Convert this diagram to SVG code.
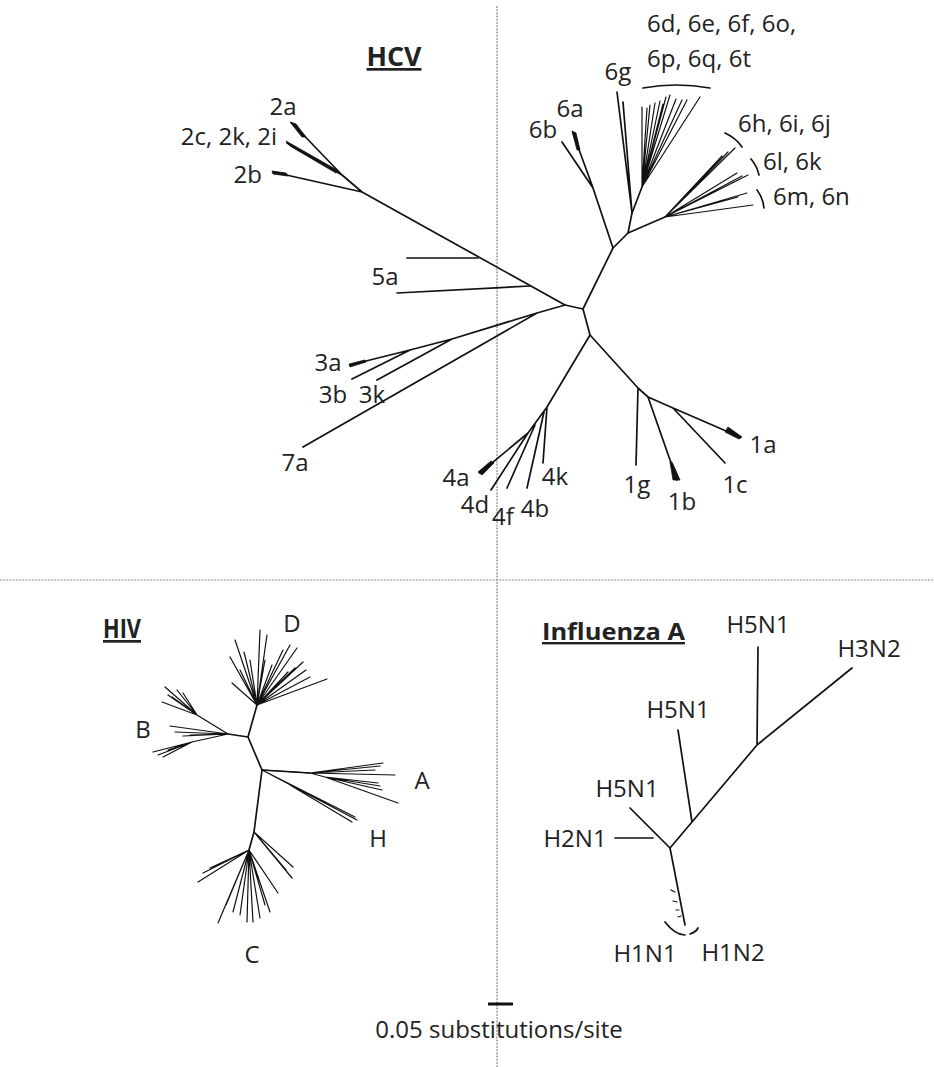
<svg xmlns="http://www.w3.org/2000/svg" width="934" height="1067" viewBox="0 0 934 1067">
<style>
.br{stroke:#111;stroke-width:1.7;fill:none;stroke-linecap:round;stroke-linejoin:round}
.thin{stroke:#111;stroke-width:1.2;fill:none;stroke-linecap:round}
.wedge{fill:#111;stroke:#111;stroke-width:0.8}
.lbl{font-family:"Open Sans","Noto Sans",sans-serif;font-size:24px;fill:#222}
.ttl{font-family:"Open Sans","Noto Sans",sans-serif;font-weight:700;fill:#222;text-decoration:underline}
.dot{stroke:#888;stroke-width:1.2;stroke-dasharray:2 1.2;fill:none}
</style>
<rect width="934" height="1067" fill="#fff"/>
<g id="dividers">
<line class="dot" x1="497" y1="6" x2="497" y2="1067"/>
<line class="dot" x1="0" y1="580" x2="934" y2="580"/>
</g>

<g id="hcv">
<text class="ttl" x="394" y="66" font-size="27" text-anchor="middle" textLength="55" lengthAdjust="spacingAndGlyphs">HCV</text>
<g id="hcv-edges">
<path class="br" d="M565,305 L583,309 L590,335"/>
<path class="br" d="M583,309 L613,248 L628,233 L632,213 L642,187"/>
<path class="br" d="M613,248 L593,188 L562,142 M593,188 L573,133"/>
<path class="br" d="M632,213 L617,92 M632,213 L623,102"/>
<path class="thin" d="M642,187 L642,107 M642,187 L650,105 M642,187 L655,103 M642,187 L660,101 M642,187 L666,97 M642,187 L670,95 M642,187 L676,99 M642,187 L682,100 M642,187 L687,100 M642,187 L700,97 M642,187 L647,108 M642,187 L663,104"/>
<path class="br" d="M628,233 L665,217"/>
<path class="thin" d="M665,217 L735,148 M665,217 L728,152 M665,217 L722,156 M665,217 L748,175 M665,217 L737,173 M665,217 L742,176 M665,217 L747,193 M665,217 L753,205 M665,217 L738,197"/>
<path class="br" d="M565,305 L362,192 L273,172 M362,192 L342,175 L292,123 M342,175 L287,143"/>
<path class="br" d="M478,258 L407,258 M530,286 L397,293"/>
<path class="br" d="M565,305 L537,313 L452,339 L410,350 L350,365 M410,350 L352,379 M452,339 L377,380 M537,313 L303,447"/>
<path class="br" d="M590,335 L547,407 L528,433 L480,473 M547,407 L543,463 M544,412 L527,488 M535,425 L507,488 M528,433 L491,490"/>
<path class="br" d="M590,335 L638,388 L636,465 M638,388 L648,397 L677,480 M648,397 L673,408 L725,463 M673,408 L740,437"/>
<polygon class="wedge" points="286,141 290,146 336,173 337,170"/>
<polygon class="wedge" points="290,122 296,124 306,137 302,137"/>
<polygon class="wedge" points="272,171 273,174 288,176 286,173"/>
<polygon class="wedge" points="572,131 576,133 580,150 577,150"/>
<polygon class="wedge" points="349,364 350,367 366,362 365,360"/>
<polygon class="wedge" points="478,472 482,475 494,463 491,461"/>
<polygon class="wedge" points="673,480 680,480 672,462 670,462"/>
<polygon class="wedge" points="728,427 742,437 739,439 725,432"/>
<path class="br" d="M643,88 Q676,82 710,88"/>
<path class="br" d="M725,133 Q736,138 742,147"/>
<path class="br" d="M751,159 Q757,166 759,175"/>
<path class="br" d="M757,190 Q763,198 764,208"/>
</g>
<g id="hcv-labels">
<text class="lbl" x="283" y="115" text-anchor="middle">2a</text>
<text class="lbl" x="277" y="145" text-anchor="end">2c, 2k, 2i</text>
<text class="lbl" x="262" y="183" text-anchor="end">2b</text>
<text class="lbl" x="385" y="285" text-anchor="middle">5a</text>
<text class="lbl" x="328" y="371" text-anchor="middle">3a</text>
<text class="lbl" x="333" y="403" text-anchor="middle">3b</text>
<text class="lbl" x="372" y="403" text-anchor="middle">3k</text>
<text class="lbl" x="295" y="471" text-anchor="middle">7a</text>
<text class="lbl" x="456" y="486" text-anchor="middle">4a</text>
<text class="lbl" x="475" y="513" text-anchor="middle">4d</text>
<text class="lbl" x="503" y="525" text-anchor="middle">4f</text>
<text class="lbl" x="535" y="517" text-anchor="middle">4b</text>
<text class="lbl" x="555" y="485" text-anchor="middle">4k</text>
<text class="lbl" x="637" y="493" text-anchor="middle">1g</text>
<text class="lbl" x="682" y="510" text-anchor="middle">1b</text>
<text class="lbl" x="735" y="493" text-anchor="middle">1c</text>
<text class="lbl" x="763" y="453" text-anchor="middle">1a</text>
<text class="lbl" x="570" y="117" text-anchor="middle">6a</text>
<text class="lbl" x="543" y="138" text-anchor="middle">6b</text>
<text class="lbl" x="618" y="80" text-anchor="middle">6g</text>
<text class="lbl" x="647" y="32">6d, 6e, 6f, 6o,</text>
<text class="lbl" x="647" y="67">6p, 6q, 6t</text>
<text class="lbl" x="738" y="132">6h, 6i, 6j</text>
<text class="lbl" x="763" y="170">6l, 6k</text>
<text class="lbl" x="773" y="205">6m, 6n</text>
</g>
</g>

<g id="hiv">
<text class="ttl" x="103" y="638" font-size="27" textLength="38" lengthAdjust="spacingAndGlyphs">HIV</text>
<g id="hiv-edges">
<path class="br" d="M262,770 L248,737 L257,705 M248,737 L228,734"/>
<path class="thin" d="M257,705 L235,640 M257,705 L230,657 M257,705 L232,683 M257,705 L244,652 M257,705 L250,660 M257,705 L260,630 M257,705 L267,635 M257,705 L265,660 M257,705 L272,665 M257,705 L283,650 M257,705 L290,645 M257,705 L297,648 M257,705 L303,662 M257,705 L306,670 M257,705 L310,677 M257,705 L327,679 M257,705 L240,670 M257,705 L295,668 M257,705 L288,672"/>
<path class="thin" d="M228,734 L197,715 L165,687 M197,715 L162,702 M197,715 L177,690 M197,715 L172,697 M197,715 L183,693 M197,715 L168,695 M228,734 L170,726 M228,734 L183,736 M228,734 L175,732 M228,734 L190,735 M228,734 L192,742 L153,752 M192,742 L163,757 M192,742 L158,755 M192,742 L168,750"/>
<path class="br" d="M262,770 L310,773"/>
<path class="thin" d="M310,773 L383,763 M310,773 L380,766 M310,773 L395,775 M310,773 L375,770 M325,777 L382,790 M325,777 L380,786 M325,777 L378,783 M325,777 L398,803 M262,770 L310,773 L325,777"/>
<path class="thin" d="M262,770 L357,820 M262,770 L355,817 M290,785 L352,822"/>
<path class="br" d="M262,770 L254,832 L249,850"/>
<path class="thin" d="M254,832 L293,867 M254,832 L292,878 M254,832 L286,870 M249,850 L270,912 M249,850 L253,922 M249,850 L247,922 M249,850 L260,918 M249,850 L233,912 M249,850 L218,923 M249,850 L240,915 M249,850 L198,882 M249,850 L203,873 M249,850 L210,868 M249,850 L226,905 M249,850 L278,893 M249,850 L265,905"/>
</g>
<g id="hiv-labels">
<text class="lbl" x="292" y="632" text-anchor="middle">D</text>
<text class="lbl" x="143" y="738" text-anchor="middle">B</text>
<text class="lbl" x="422" y="789" text-anchor="middle">A</text>
<text class="lbl" x="378" y="847" text-anchor="middle">H</text>
<text class="lbl" x="252" y="963" text-anchor="middle">C</text>
</g>
</g>

<g id="influenza">
<text class="ttl" x="542" y="640" font-size="24" textLength="143" lengthAdjust="spacingAndGlyphs">Influenza A</text>
<g id="flu-edges">
<path class="br" d="M670,848 L692,822 L757,745 L852,668 M692,822 L678,730 M757,745 L758,647"/>
<path class="br" d="M670,848 L630,808 M653,838 L615,838"/>
<path class="br" d="M670,848 L685,925"/>
<path class="thin" d="M675,892 L671,890 M677,902 L673,901 M679,910 L676,910 M681,916 L678,917"/>
<path class="br" d="M665,922 Q675,935 685,935 M690,934 Q696,932 698,928"/>
</g>
<g id="flu-labels">
<text class="lbl" x="758" y="633" text-anchor="middle">H5N1</text>
<text class="lbl" x="869" y="657" text-anchor="middle">H3N2</text>
<text class="lbl" x="678" y="718" text-anchor="middle">H5N1</text>
<text class="lbl" x="627" y="797" text-anchor="middle">H5N1</text>
<text class="lbl" x="575" y="847" text-anchor="middle">H2N1</text>
<text class="lbl" x="645" y="962" text-anchor="middle">H1N1</text>
<text class="lbl" x="733" y="961" text-anchor="middle">H1N2</text>
</g>
</g>

<g id="scale">
<line x1="488" y1="1004" x2="513" y2="1004" stroke="#111" stroke-width="3"/>
<text class="lbl" x="499" y="1038" text-anchor="middle">0.05 substitutions/site</text>
</g>
</svg>
